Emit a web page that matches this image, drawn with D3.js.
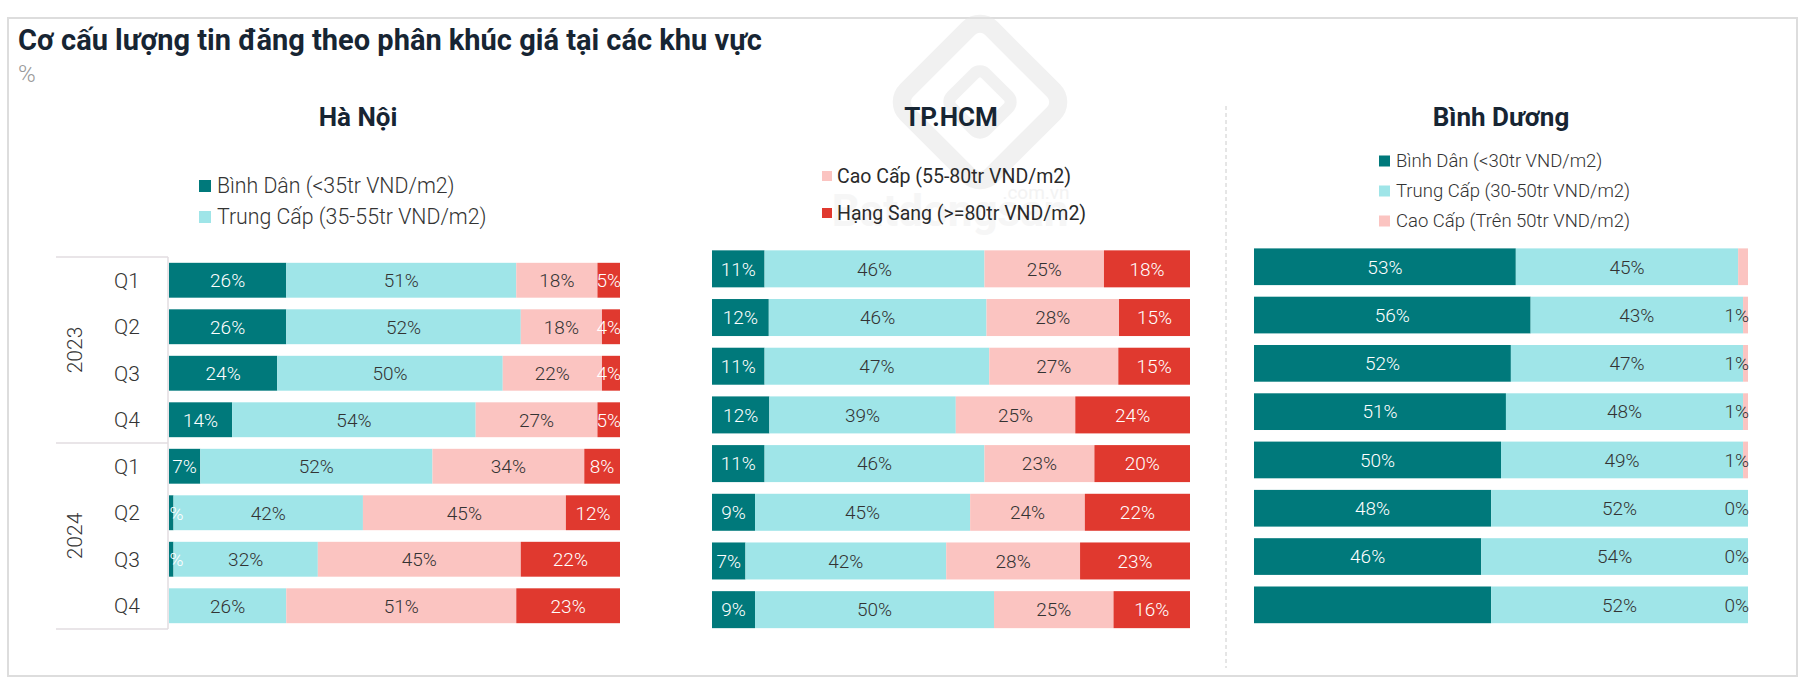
<!DOCTYPE html>
<html>
<head>
<meta charset="utf-8">
<script src="https://cdn.jsdelivr.net/npm/d3@7"></script>
<style>
  body { margin: 0; background: #ffffff; }
  svg { display: block; font-family: Roboto, "Noto Sans", "DejaVu Sans", sans-serif; }
</style>
</head>
<body>
<svg id="chart" width="1804" height="685"></svg>
<script>
// ---------------- DATA ----------------
const rowKeys = ["2023-Q1","2023-Q2","2023-Q3","2023-Q4","2024-Q1","2024-Q2","2024-Q3","2024-Q4"];
const quarterLabels = ["Q1","Q2","Q3","Q4","Q1","Q2","Q3","Q4"];
const yearLabels = ["2023","2024"];

const segmentKeys = ["binhDan","trungCap","caoCap","hangSang"];

const hnLegend  = ["Bình Dân (<35tr VND/m2)", "Trung Cấp (35-55tr VND/m2)"];
const hcmLegend = ["Cao Cấp (55-80tr VND/m2)", "Hạng Sang (>=80tr VND/m2)"];
const bdLegend  = ["Bình Dân (<30tr VND/m2)", "Trung Cấp (30-50tr VND/m2)", "Cao Cấp (Trên 50tr VND/m2)"];

// Hà Nội (%)
const hnBinhDan  = [26, 26, 24, 14,  7,  1,  1,  0];
const hnTrungCap = [51, 52, 50, 54, 52, 42, 32, 26];
const hnCaoCap   = [18, 18, 22, 27, 34, 45, 45, 51];
const hnHangSang = [ 5,  4,  4,  5,  8, 12, 22, 23];
const hnHiddenLabels = [[7, 0]];

// TP.HCM (%)
const hcmBinhDan  = [11, 12, 11, 12, 11,  9,  7,  9];
const hcmTrungCap = [46, 46, 47, 39, 46, 45, 42, 50];
const hcmCaoCap   = [25, 28, 27, 25, 23, 24, 28, 25];
const hcmHangSang = [18, 15, 15, 24, 20, 22, 23, 16];
const hcmHiddenLabels = [];

// Bình Dương (%)
const bdBinhDan  = [53, 56, 52, 51, 50, 48, 46, 48];
const bdTrungCap = [45, 43, 47, 48, 49, 52, 54, 52];
const bdCaoCap   = [ 2,  1,  1,  1,  1,  0,  0,  0];
const bdHiddenLabels = [[0, 2], [7, 0]];

// ---------------- STYLE / LAYOUT ----------------
const segmentColors = ["#00797b", "#9fe5e8", "#fbc4c1", "#e0392f"];
const labelColors   = ["#ffffff", "#333333", "#333333", "#ffffff"];
const FONT = 'Roboto, "Noto Sans", sans-serif';

const panels = [
  { title: "Hà Nội", titleX: 358,
    series: [hnBinhDan, hnTrungCap, hnCaoCap, hnHangSang], segIdx: [0,1,2,3], hidden: hnHiddenLabels,
    x0: 169, x1: 620, y0: 257, y1: 629, padIn: 0.25, padOut: 0.125,
    legend: { items: hnLegend, colorIdx: [0,1], x: 199, ys: [186, 217], size: 21.3, sw: 12, gap: 6, weight: 300, color: "#333" },
    axis: true },
  { title: "TP.HCM", titleX: 951,
    series: [hcmBinhDan, hcmTrungCap, hcmCaoCap, hcmHangSang], segIdx: [0,1,2,3], hidden: hcmHiddenLabels,
    x0: 712, x1: 1190, y0: 244.5, y1: 634, padIn: 0.24, padOut: 0.12,
    legend: { items: hcmLegend, colorIdx: [2,3], x: 822, ys: [176, 213], size: 19.5, sw: 10, gap: 5, weight: 400, color: "#2a2a2a" },
    axis: false },
  { title: "Bình Dương", titleX: 1501,
    series: [bdBinhDan, bdTrungCap, bdCaoCap], segIdx: [0,1,2], hidden: bdHiddenLabels,
    x0: 1254, x1: 1748, y0: 242.6, y1: 629, padIn: 0.24, padOut: 0.12,
    legend: { items: bdLegend, colorIdx: [0,1,2], x: 1379, ys: [161, 191, 221], size: 18.5, sw: 11, gap: 6, weight: 300, color: "#333" },
    axis: false }
];

// ---------------- DRAW ----------------
const svg = d3.select("#chart");

// outer frame
svg.append("rect").attr("x", 8).attr("y", 18).attr("width", 1789).attr("height", 658)
  .attr("fill", "#fff").attr("stroke", "#dddddd").attr("stroke-width", 2);

// watermark (faint logo)
const wm = svg.append("g").attr("opacity", 0.5);
wm.append("rect").attr("x", 920).attr("y", 42).attr("width", 120).attr("height", 120)
  .attr("rx", 16).attr("transform", "rotate(45,980,102)")
  .attr("fill", "none").attr("stroke", "#e4e4e4").attr("stroke-width", 18);
wm.append("rect").attr("x", 956).attr("y", 78).attr("width", 48).attr("height", 48)
  .attr("rx", 8).attr("transform", "rotate(45,980,102)")
  .attr("fill", "none").attr("stroke", "#e4e4e4").attr("stroke-width", 12);
wm.append("text").attr("x", 950).attr("y", 226).attr("text-anchor", "middle")
  .attr("font-family", FONT).attr("font-weight", 700).attr("font-size", 44)
  .attr("fill", "#eeeeee").text("Batdongsan");
wm.append("text").attr("x", 1036).attr("y", 199).attr("text-anchor", "middle")
  .attr("font-family", FONT).attr("font-size", 19)
  .attr("fill", "#e8e8e8").text(".com.vn");

// title & unit
svg.append("text").attr("x", 18).attr("y", 50)
  .attr("font-family", FONT).attr("font-weight", 700).attr("font-size", 29)
  .attr("fill", "#172533").text("Cơ cấu lượng tin đăng theo phân khúc giá tại các khu vực");
svg.append("text").attr("x", 18).attr("y", 82)
  .attr("font-family", FONT).attr("font-weight", 300).attr("font-size", 24)
  .attr("fill", "#999").text("%");

// dashed divider
svg.append("line").attr("x1", 1226).attr("x2", 1226).attr("y1", 106).attr("y2", 668)
  .attr("stroke", "#cccccc").attr("stroke-width", 1).attr("stroke-dasharray", "4,3");

panels.forEach((p, pi) => {
  const g = svg.append("g");

  // title
  g.append("text").attr("x", p.titleX).attr("y", 126).attr("text-anchor", "middle")
    .attr("font-family", FONT).attr("font-weight", 700).attr("font-size", 26)
    .attr("fill", "#172533").text(p.title);

  // legend
  const lg = g.append("g");
  p.legend.items.forEach((name, i) => {
    const cy = p.legend.ys[i];
    lg.append("rect").attr("x", p.legend.x).attr("y", cy - p.legend.sw / 2)
      .attr("width", p.legend.sw).attr("height", p.legend.sw)
      .attr("fill", segmentColors[p.legend.colorIdx[i]]);
    lg.append("text").attr("x", p.legend.x + p.legend.sw + p.legend.gap).attr("y", cy)
      .attr("dy", "0.35em").attr("font-family", FONT)
      .attr("font-weight", p.legend.weight).attr("font-size", p.legend.size)
      .attr("fill", p.legend.color).text(name);
  });

  // data table for stack
  const keys = p.segIdx.map(s => segmentKeys[s]);
  const table = rowKeys.map((k, i) => {
    const o = { row: k };
    p.segIdx.forEach((s, j) => { o[segmentKeys[s]] = p.series[j][i]; });
    return o;
  });
  const stacked = d3.stack().keys(keys).offset(d3.stackOffsetExpand)(table);

  const x = d3.scaleLinear().domain([0, 1]).range([p.x0, p.x1]);
  const y = d3.scaleBand().domain(rowKeys).range([p.y0, p.y1])
    .paddingInner(p.padIn).paddingOuter(p.padOut);

  // bars
  stacked.forEach((layer, li) => {
    const sIdx = p.segIdx[li];
    g.append("g").selectAll("rect").data(layer).join("rect")
      .attr("x", d => x(d[0]))
      .attr("y", d => y(d.data.row))
      .attr("width", d => Math.max(0, x(d[1]) - x(d[0])))
      .attr("height", y.bandwidth())
      .attr("fill", segmentColors[sIdx]);
  });

  // labels (clipped on the left at the plot edge)
  const clipId = "clip" + pi;
  svg.append("clipPath").attr("id", clipId).append("rect")
    .attr("x", p.x0).attr("y", p.y0 - 10).attr("width", p.x1 - p.x0 + 6).attr("height", p.y1 - p.y0 + 20);
  const lblG = g.append("g").attr("clip-path", `url(#${clipId})`);
  stacked.forEach((layer, li) => {
    const sIdx = p.segIdx[li];
    layer.forEach((d, ri) => {
      if (p.hidden.some(h => h[0] === ri && h[1] === li)) return;
      const val = p.series[li][ri];
      const cx = (x(d[0]) + x(d[1])) / 2;
      const t = lblG.append("text")
        .attr("x", cx).attr("y", y(d.data.row) + y.bandwidth() / 2)
        .attr("dy", "0.36em").attr("text-anchor", "middle")
        .attr("font-family", FONT).attr("font-weight", 300).attr("font-size", 19)
        .attr("fill", labelColors[sIdx]).text(d3.format(".0f")(val) + "%");
      const w = t.node().getComputedTextLength();
      if (cx + w / 2 > p.x1 + 1) t.attr("x", p.x1 + 1 - w / 2);
    });
  });

  // Hà Nội category axis (quarters / years)
  if (p.axis) {
    const ax = g.append("g");
    const lineX0 = 56, lineX1 = p.x0 - 1;
    const step = y.step();
    const groupTop = gi => p.y0 + gi * 4 * step;
    [0, 1, 2].forEach(gi => {
      ax.append("line").attr("x1", lineX0).attr("x2", lineX1)
        .attr("y1", groupTop(gi)).attr("y2", groupTop(gi))
        .attr("stroke", "#e2dde0").attr("stroke-width", 1.5);
    });
    ax.append("line").attr("x1", lineX1).attr("x2", lineX1).attr("y1", p.y0).attr("y2", p.y1)
      .attr("stroke", "#e2dde0").attr("stroke-width", 1.5);
    rowKeys.forEach((k, i) => {
      ax.append("text").attr("x", 127).attr("y", y(k) + y.bandwidth() / 2)
        .attr("dy", "0.36em").attr("text-anchor", "middle")
        .attr("font-family", FONT).attr("font-weight", 300).attr("font-size", 21)
        .attr("fill", "#333").text(quarterLabels[i]);
    });
    yearLabels.forEach((yr, gi) => {
      const cy = (groupTop(gi) + groupTop(gi + 1)) / 2;
      ax.append("text").attr("x", 74.5).attr("y", cy)
        .attr("dy", "0.36em").attr("text-anchor", "middle")
        .attr("transform", `rotate(-90,74.5,${cy})`)
        .attr("font-family", FONT).attr("font-weight", 300).attr("font-size", 21)
        .attr("fill", "#333").text(yr);
    });
  }
});
</script>
</body>
</html>
